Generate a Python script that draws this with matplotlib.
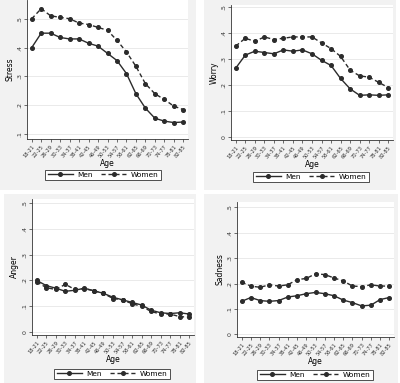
import numpy as np
import matplotlib
matplotlib.use("Agg")
import matplotlib.pyplot as plt
from matplotlib.patches import Rectangle

ages = ["18-21", "22-25", "26-29", "30-33", "34-37", "38-41", "42-45", "46-49", "50-53",
        "54-57", "58-61", "62-65", "66-69", "70-73", "74-77", "78-81", "82-85"]

stress_men = [0.40, 0.45, 0.45, 0.435, 0.43, 0.43, 0.415, 0.405, 0.38, 0.355, 0.31, 0.24,
              0.19, 0.155, 0.145, 0.14, 0.142]
stress_women = [0.50, 0.535, 0.51, 0.505, 0.50, 0.485, 0.48, 0.47, 0.46, 0.425, 0.385, 0.335,
                0.275, 0.24, 0.22, 0.197, 0.185]

worry_men = [0.265, 0.315, 0.33, 0.325, 0.32, 0.335, 0.33, 0.335, 0.32, 0.295, 0.275, 0.225,
             0.185, 0.16, 0.162, 0.16, 0.162]
worry_women = [0.35, 0.38, 0.368, 0.385, 0.375, 0.38, 0.385, 0.385, 0.385, 0.362, 0.34, 0.31,
               0.257, 0.235, 0.23, 0.21, 0.19]

anger_men = [0.20, 0.18, 0.17, 0.158, 0.162, 0.17, 0.16, 0.15, 0.135, 0.125, 0.115, 0.105,
             0.085, 0.075, 0.072, 0.075, 0.07]
anger_women = [0.195, 0.172, 0.165, 0.185, 0.165, 0.168, 0.16, 0.15, 0.13, 0.125, 0.11, 0.10,
               0.08, 0.07, 0.07, 0.06, 0.058]

sad_men = [0.13, 0.145, 0.133, 0.13, 0.133, 0.147, 0.152, 0.16, 0.165, 0.16, 0.152, 0.135,
           0.125, 0.112, 0.115, 0.137, 0.145]
sad_women = [0.205, 0.19, 0.185, 0.195, 0.19, 0.195, 0.215, 0.22, 0.238, 0.235, 0.222, 0.21,
             0.19, 0.188, 0.195, 0.19, 0.19]

W, H = 400, 383
fig = plt.figure(figsize=(W / 100, H / 100), dpi=100)
fig.patch.set_facecolor("white")

# region box, plot box (pixels, top-left origin), legend centre x / top y
panels = [
    ("Stress", stress_men, stress_women, (0, 0, 196, 190), (27, 0, 188, 139), (103, 166),
     (0.083, 0.565), [0.1, 0.2, 0.3, 0.4, 0.5]),
    ("Worry", worry_men, worry_women, (204, 0, 396, 190), (231, 5, 393, 140), (311, 168),
     (-0.012, 0.508), [0, 0.1, 0.2, 0.3, 0.4, 0.5]),
    ("Anger", anger_men, anger_women, (4, 194, 196, 383), (32, 199, 194, 335), (112, 365),
     (-0.011, 0.515), [0, 0.1, 0.2, 0.3, 0.4, 0.5]),
    ("Sadness", sad_men, sad_women, (204, 194, 398, 383), (237, 202, 394, 337), (315, 366),
     (-0.01, 0.52), [0, 0.1, 0.2, 0.3, 0.4, 0.5]),
]

tick_names = {0: "0", 0.1: ".1", 0.2: ".2", 0.3: ".3", 0.4: ".4", 0.5: ".5"}
col = "#2b2b2b"
x = np.arange(len(ages))

for name, men, women, reg, box, legpos, ylim, yticks in panels:
    rx0, ry0, rx1, ry1 = reg
    fig.add_artist(Rectangle((rx0 / W, 1 - ry1 / H), (rx1 - rx0) / W, (ry1 - ry0) / H,
                             transform=fig.transFigure, facecolor="#f2f2f2", edgecolor="none",
                             zorder=-5))
    x0, y0, x1, y1 = box
    ax = fig.add_axes([x0 / W, 1 - y1 / H, (x1 - x0) / W, (y1 - y0) / H])
    ax.set_facecolor("white")
    ax.plot(x, men, "-", color=col, lw=1.0, marker="o", ms=2.6, label="Men")
    ax.plot(x, women, "--", color=col, lw=1.0, marker="o", ms=2.6, dashes=(3, 2), label="Women")
    ax.set_xlim(-0.5, len(ages) - 0.5)
    ax.set_ylim(*ylim)
    ax.set_yticks(yticks)
    ax.set_yticklabels([tick_names[round(t, 1)] for t in yticks], rotation=90, va="center",
                       fontsize=4.5)
    ax.set_xticks(x)
    ax.set_xticklabels(ages, rotation=50, ha="right", rotation_mode="anchor", fontsize=3.7)
    ax.tick_params(length=2, width=0.5, pad=1.5, colors="#333333")
    for t in yticks:
        ax.axhline(t, color="#e6e6e6", lw=0.6, zorder=0)
    for s in ["top", "right"]:
        ax.spines[s].set_visible(False)
    for s in ["left", "bottom"]:
        ax.spines[s].set_linewidth(0.6)
        ax.spines[s].set_color("#333333")
    ax.set_ylabel(name, fontsize=5.5, labelpad=2)
    ax.set_xlabel("Age", fontsize=5.5, labelpad=0.5)
    leg = ax.legend(loc="upper center", bbox_to_anchor=(legpos[0] / W, 1 - legpos[1] / H),
                    bbox_transform=fig.transFigure, ncol=2, fontsize=5.3,
                    frameon=True, fancybox=False, handlelength=3.4, columnspacing=1.2,
                    borderpad=0.3, handletextpad=0.6, framealpha=1)
    leg.get_frame().set_edgecolor("#333333")
    leg.get_frame().set_linewidth(0.6)

fig.savefig("out.png", dpi=100)
